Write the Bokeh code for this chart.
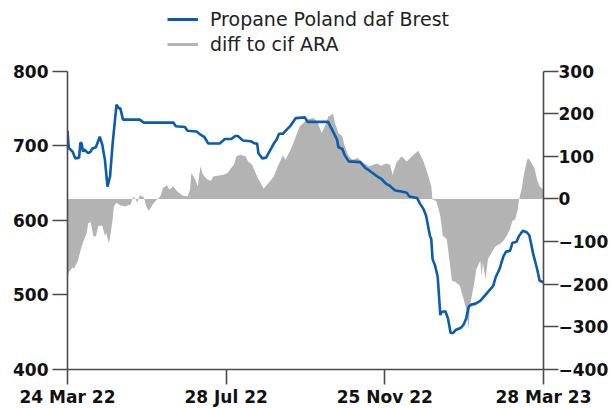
from bokeh.plotting import figure
from bokeh.models import (Range1d, LinearAxis, FixedTicker, Legend, LegendItem)
from bokeh.embed import file_html
from bokeh.resources import INLINE

# ---------------- data ----------------
# x: days since 24 Mar 22
price_day = [0, 1, 4, 6, 9, 10, 11, 12, 13, 16, 18, 19, 22, 25, 27, 29, 31, 33, 35, 38,
             40, 41, 43, 56, 59, 82, 84, 91, 93, 100, 103, 106, 109, 118, 122, 127, 130,
             132, 136, 142, 145, 147, 148, 151, 154, 160, 162, 164, 167, 169, 173, 177,
             184, 186, 201, 202, 205, 209, 210, 213, 215, 218, 227, 231, 233, 236, 240,
             243, 247, 250, 254, 258, 263, 265, 271, 273, 276, 278, 281, 282, 283, 285,
             287, 289, 290, 293, 295, 297, 299, 301, 305, 307, 309, 311, 313, 316, 320,
             323, 327, 330, 332, 335, 336, 338, 340, 343, 345, 348, 350, 353, 356, 358,
             359, 361, 364, 366, 369]
price_val = [720, 697, 692, 683, 684, 704, 703, 692, 695, 690, 692, 696, 698, 712, 701, 681,
             645, 659, 703, 755, 750, 750, 735, 735, 731, 731, 726, 725, 720, 719, 715, 712,
             703, 703, 709, 709, 713, 713, 707, 706, 703, 703, 690, 683, 684, 703, 708, 716,
             716, 720, 727, 737, 738, 732, 732, 732, 722, 708, 698, 696, 687, 679, 678, 670,
             668, 664, 659, 656, 649, 646, 640, 639, 637, 632, 630, 623, 615, 606, 579, 575,
             548, 539, 524, 473, 477, 478, 468, 449, 449, 453, 456, 460, 468, 484, 487, 488,
             492, 498, 506, 512, 524, 535, 541, 552, 558, 559, 570, 571, 579, 586, 584, 580,
             572, 555, 535, 519, 517]

diff_day = [0, 1, 4, 5, 8, 10, 12, 15, 16, 18, 20, 22, 24, 27, 29, 30, 32, 33, 35, 36, 38,
            41, 45, 49, 51, 53, 54, 56, 59, 61, 63, 66, 68, 72, 74, 77, 79, 82, 85, 89, 93,
            95, 96, 99, 101, 103, 105, 108, 111, 113, 117, 121, 124, 126, 129, 131, 134,
            138, 140, 143, 147, 152, 156, 160, 163, 167, 169, 173, 175, 178, 180, 184, 186,
            191, 194, 197, 200, 202, 206, 207, 210, 213, 215, 218, 221, 225, 229, 234, 240,
            243, 247, 250, 252, 255, 259, 263, 267, 272, 276, 279, 282, 283, 286, 289, 291,
            294, 296, 298, 301, 304, 307, 309, 311, 312, 315, 317, 320, 321, 322, 324, 326,
            329, 332, 335, 338, 341, 343, 345, 347, 349, 350, 352, 354, 356, 357, 359, 362,
            364, 366, 368, 369]
diff_val = [-192, -172, -160, -164, -145, -122, -102, -79, -57, -54, -87, -88, -63, -63, -87,
            -79, -104, -90, -48, -17, -9, -15, -17, -13, 6, -1, -9, 8, 5, -17, -28, -13, -5,
            6, 26, 32, 22, 30, 18, 8, 6, 22, 61, 46, 30, 77, 57, 47, 42, 53, 55, 57, 61, 69,
            81, 100, 104, 100, 88, 81, 53, 24, 38, 53, 77, 102, 92, 116, 131, 155, 170, 182,
            187, 190, 178, 155, 174, 193, 200, 182, 155, 147, 123, 100, 92, 96, 85, 77, 83,
            78, 83, 81, 57, 85, 100, 88, 100, 113, 88, 61, 30, -1, -5, -40, -87, -94, -141,
            -192, -195, -203, -234, -258, -304, -250, -203, -164, -145, -180, -149, -188,
            -141, -125, -110, -106, -98, -83, -71, -51, -48, -25, -1, 22, 61, 88, 96, 88, 73,
            46, 30, 24, 22]

x_tick_pos = [0, 123, 246, 369]
x_tick_labels = ["24 Mar 22", "28 Jul 22", "25 Nov 22", "28 Mar 23"]
left_ticks = [400, 500, 600, 700, 800]
right_ticks = [-400, -300, -200, -100, 0, 100, 200, 300]
series_names = ["Propane Poland daf Brest", "diff to cif ARA"]

# ---------------- layout / styling ----------------
BLUE = "#0b5cad"
GREY = "#b3b3b3"
AXIS = "#4a4a4a"
FONT = "DejaVu Sans"

W, H = 611, 409
LEFT, RIGHT, BOTTOM = 67, 67, 38
TOP_PX = 71            # space above the value area, used by the legend
PLOT_PX = H - BOTTOM - TOP_PX   # height of the value area

L_LO, L_HI = left_ticks[0], left_ticks[-1]
R_LO, R_HI = right_ticks[0], right_ticks[-1]
l_top = L_HI + (L_HI - L_LO) * TOP_PX / PLOT_PX
r_top = R_HI + (R_HI - R_LO) * TOP_PX / PLOT_PX

p = figure(width=W, height=H, output_backend="svg", toolbar_location=None,
           x_range=Range1d(x_tick_pos[0], x_tick_pos[-1]),
           y_range=Range1d(L_LO, l_top),
           min_border_left=LEFT, min_border_right=RIGHT, min_border_top=0,
           min_border_bottom=BOTTOM)
p.extra_y_ranges = {"diff": Range1d(R_LO, r_top)}
p.outline_line_color = None
p.xgrid.visible = False
p.ygrid.visible = False
p.background_fill_color = "white"
p.border_fill_color = "white"

area = p.varea(x=diff_day, y1=0, y2=diff_val, y_range_name="diff",
               fill_color=GREY, fill_alpha=1.0)
line = p.line(price_day, price_val, line_color=BLUE, line_width=2.6)

# legend proxies (a single NaN point draws nothing in the plot,
# but lets the legend draw a short line swatch, as in the original)
nan = float("nan")
leg_blue = p.line(x=[nan], y=[nan], line_color=BLUE, line_width=3)
leg_grey = p.line(x=[nan], y=[nan], line_color=GREY, line_width=3)

def style_axis(ax):
    ax.axis_line_color = AXIS
    ax.axis_line_width = 1.6
    ax.major_tick_line_color = AXIS
    ax.major_tick_line_width = 1.6
    ax.major_tick_out = 15
    ax.major_tick_in = 0
    ax.minor_tick_line_color = None
    ax.major_label_text_font = FONT
    ax.major_label_text_font_style = "bold"
    ax.major_label_text_font_size = "17px"
    ax.major_label_text_color = "#111111"

yl = p.yaxis[0]
style_axis(yl)
yl.ticker = FixedTicker(ticks=left_ticks)
yl.bounds = (L_LO, L_HI)
yl.major_label_standoff = 4

yr = LinearAxis(y_range_name="diff")
style_axis(yr)
yr.ticker = FixedTicker(ticks=right_ticks)
yr.bounds = (R_LO, R_HI)
yr.major_label_standoff = 0
p.add_layout(yr, "right")

xa = p.xaxis[0]
style_axis(xa)
xa.ticker = FixedTicker(ticks=x_tick_pos)
xa.major_label_overrides = {pos: lab for pos, lab in zip(x_tick_pos, x_tick_labels)}
xa.major_label_standoff = 2

legend = Legend(items=[LegendItem(label=series_names[0], renderers=[leg_blue]),
                       LegendItem(label=series_names[1], renderers=[leg_grey])],
                location=(100, H - BOTTOM - 58), orientation="vertical",
                glyph_width=31, glyph_height=24, label_height=24,
                label_standoff=12, spacing=1, padding=0, margin=0,
                border_line_color=None, background_fill_alpha=0,
                label_text_font=FONT, label_text_font_size="19px",
                label_text_color="#222222")
p.add_layout(legend, "center")

open("out.html", "w").write(file_html(p, INLINE))
